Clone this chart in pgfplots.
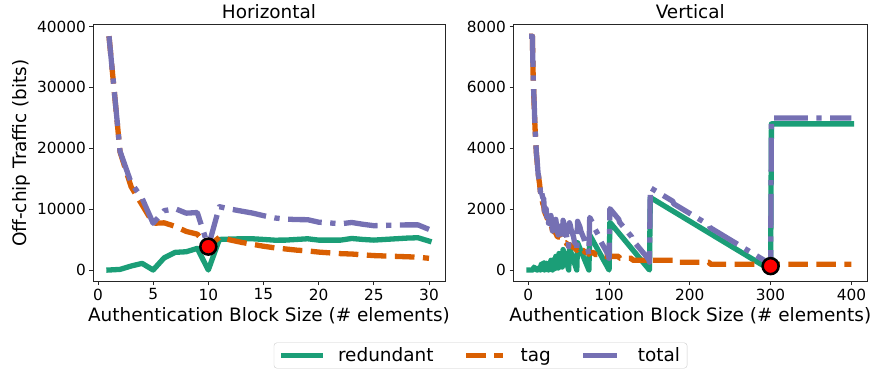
\documentclass[border=0pt]{standalone}
\usepackage{fontspec}
\setmainfont{DejaVu Sans}
\usepackage{pgfplots}
\pgfplotsset{compat=1.18}
\definecolor{cgreen}{HTML}{1B9E77}
\definecolor{corange}{HTML}{D95F02}
\definecolor{cpurple}{HTML}{7570B3}
\pgfplotsset{
 myaxis/.style={
  scale only axis, height=257.2bp, anchor=south west,
  axis line style={line width=0.8bp, black!85},
  tick align=outside, tick pos=left, major tick length=3.5bp,
  every tick/.style={line width=0.8bp, black!85},
  tick label style={font=\fontsize{15.4}{18}\selectfont},
  label style={font=\fontsize{18.5}{22}\selectfont},
  title style={font=\fontsize{18.5}{22}\selectfont, yshift=-4bp},
  /pgf/number format/assume math mode=true,
  /pgf/number format/1000 sep={},
  scaled ticks=false,
  xlabel={Authentication Block Size (\# elements)},
  legend image code/.code={\draw[##1] (0bp,0bp) -- (37bp,0bp);},
 },
 sred/.style={cgreen, line width=5.3bp, line join=round, line cap=rect},
 stag/.style={corange, line width=5.3bp, line join=round, dash pattern=on 19.6bp off 8.5bp},
 stot/.style={cpurple, line width=5.3bp, line join=round, dash pattern=on 33.9bp off 8.5bp on 5.3bp off 8.5bp},
 smk/.style={only marks, mark=*, mark size=8bp, mark options={fill=red, draw=black, line width=2.5bp, solid}},
}
\begin{document}
\begin{tikzpicture}
\useasboundingbox (0,0) rectangle (876bp,375bp);
\begin{axis}[myaxis, at={(93bp,93.3bp)}, width=352bp,
  xmin=-0.45, xmax=31.45, ymin=-1920, ymax=40320,
  xtick={0,5,...,30}, ytick={0,10000,20000,30000,40000},
  title={Horizontal}, ylabel={Off-chip Traffic (bits)},
  legend columns=3,
  legend style={at={(1.1009,-0.287)}, anchor=center, draw=black!20, rounded corners=3bp,
    font=\fontsize{18.5}{22}\selectfont, inner xsep=7bp, inner ysep=3bp,
    nodes={inner xsep=0pt}},
  legend cell align=left]
\addplot[sred] coordinates {(1,0) (2,100) (3,650) (4,1090) (5,0) (6,2000) (7,2900) (8,3000) (9,3550) (10,0) (11,5020) (12,5080) (13,5130) (14,5130) (15,5020) (16,4900) (17,4910) (18,5020) (19,5130) (20,4910) (21,4910) (22,4910) (23,5180) (24,5020) (25,4910) (26,5020) (27,5130) (28,5240) (29,5300) (30,4750)};
\addlegendentry{\hspace*{14.8bp}redundant\hspace*{30bp}}
\addplot[stag] coordinates {(1,38400) (2,19392) (3,13696) (4,10688) (5,7680) (6,7744) (7,7168) (8,6336) (9,5888) (10,3840) (11,5376) (12,4928) (13,4544) (14,4224) (15,3904) (16,3648) (17,3456) (18,3264) (19,3136) (20,2944) (21,2816) (22,2688) (23,2624) (24,2496) (25,2368) (26,2304) (27,2240) (28,2176) (29,2112) (30,1920)};
\addlegendentry{\hspace*{14.8bp}tag\hspace*{30bp}}
\addplot[stot] coordinates {(1,38400) (2,19492) (3,14346) (4,11778) (5,7680) (6,9744) (7,10068) (8,9336) (9,9438) (10,3840) (11,10396) (12,10008) (13,9674) (14,9354) (15,8924) (16,8548) (17,8366) (18,8284) (19,8266) (20,7854) (21,7726) (22,7598) (23,7804) (24,7516) (25,7278) (26,7324) (27,7370) (28,7416) (29,7412) (30,6670)};
\addlegendentry{\hspace*{14.8bp}total}
\addplot[smk, forget plot] coordinates {(10,3840)};
\end{axis}
\begin{axis}[myaxis, at={(513bp,93.3bp)}, width=354.5bp,
  xmin=-18.95, xmax=419.95, ymin=-384, ymax=8064,
  xtick={0,100,200,300,400}, ytick={0,2000,4000,6000,8000},
  title={Vertical}]
\addplot[sred] coordinates {(1,0) (2,0) (3,0) (4,0) (5,0) (6,0) (7,96) (8,64) (9,48) (10,0) (11,48) (12,0) (13,16) (14,96) (15,0) (16,192) (17,176) (18,192) (19,240) (20,0) (21,96) (22,224) (23,16) (24,192) (25,0) (26,224) (27,48) (28,320) (29,160) (30,0) (31,336) (32,192) (33,48) (34,448) (35,320) (36,192) (37,64) (38,544) (39,432) (40,320) (41,208) (42,96) (43,672) (44,576) (45,480) (46,384) (47,288) (48,192) (49,96) (50,0) (51,720) (52,640) (53,560) (54,480) (55,400) (56,320) (57,240) (58,160) (59,80) (60,0) (61,896) (62,832) (63,768) (64,704) (65,640) (66,576) (67,512) (68,448) (69,384) (70,320) (71,256) (72,192) (73,128) (74,64) (75,0) (76,1152) (100,0) (101,1568) (150,0) (151,2384) (300,0) (301,4800) (400,4800)};
\addplot[stag] coordinates {(1,7680) (2,7680) (3,7680) (4,7680) (5,7680) (6,6400) (7,5568) (8,4864) (9,4288) (10,3840) (11,3520) (12,3200) (13,3008) (14,2816) (15,2560) (16,2496) (17,2304) (18,2176) (19,2112) (20,1920) (21,1856) (22,1792) (23,1728) (24,1664) (25,1536) (26,1536) (27,1472) (28,1472) (29,1408) (30,1280) (31,1344) (32,1280) (33,1216) (34,1216) (35,1152) (36,1088) (37,1088) (38,1088) (39,1088) (40,1024) (41,960) (42,960) (43,960) (44,960) (45,896) (46,896) (47,896) (48,832) (49,832) (50,768) (51,832) (52,832) (53,768) (54,768) (55,768) (56,768) (57,704) (58,704) (59,704) (60,640) (61,704) (62,704) (63,704) (64,704) (65,640) (66,640) (67,640) (68,640) (69,640) (70,576) (71,576) (72,576) (73,576) (74,576) (75,512) (76,576) (81,576) (82,512) (89,512) (90,448) (99,448) (100,384) (101,448) (112,448) (113,384) (128,384) (129,320) (149,320) (150,256) (151,320) (179,320) (180,256) (224,256) (225,192) (299,192) (300,128) (301,192) (400,192)};
\addplot[stot] coordinates {(1,7680) (2,7680) (3,7680) (4,7680) (5,7680) (6,6400) (7,5664) (8,4928) (9,4336) (10,3840) (11,3568) (12,3200) (13,3024) (14,2912) (15,2560) (16,2688) (17,2480) (18,2368) (19,2352) (20,1920) (21,1952) (22,2016) (23,1744) (24,1856) (25,1536) (26,1760) (27,1520) (28,1792) (29,1568) (30,1280) (31,1680) (32,1472) (33,1264) (34,1664) (35,1472) (36,1280) (37,1152) (38,1632) (39,1520) (40,1344) (41,1168) (42,1056) (43,1632) (44,1536) (45,1376) (46,1280) (47,1184) (48,1024) (49,928) (50,768) (51,1552) (52,1472) (53,1328) (54,1248) (55,1168) (56,1088) (57,944) (58,864) (59,784) (60,640) (61,1600) (62,1536) (63,1472) (64,1408) (65,1280) (66,1216) (67,1152) (68,1088) (69,1024) (70,896) (71,832) (72,768) (73,704) (74,640) (75,512) (76,1728) (81,1488) (82,1376) (89,1040) (90,928) (99,496) (100,384) (101,2016) (112,1664) (113,1568) (128,1088) (129,992) (149,352) (150,256) (151,2704) (179,2256) (180,2176) (224,1472) (225,1392) (299,208) (300,128) (301,4992) (400,4992)};
\addplot[smk] coordinates {(300,128)};
\end{axis}
\end{tikzpicture}
\end{document}
